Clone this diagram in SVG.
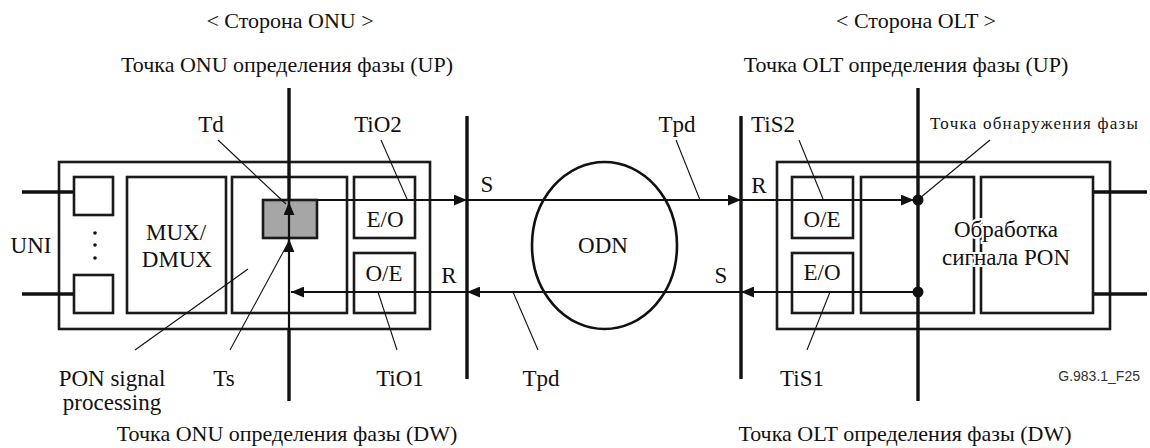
<svg xmlns="http://www.w3.org/2000/svg" width="1150" height="448" viewBox="0 0 1150 448">
<style>
text{font-family:"Liberation Serif","Times New Roman",serif;font-size:23px;fill:#111;text-anchor:middle}
.ttl{font-size:22px}
.sm{font-size:17px;text-anchor:start}
.fig{font-family:"Liberation Sans",Arial,sans-serif;font-size:14px;fill:#333;text-anchor:end}
.box{fill:#fff;stroke:#1a1a1a;stroke-width:2.6}
.thick{stroke:#111;stroke-width:3.4;fill:none}
.sig{stroke:#111;stroke-width:2.2;fill:none}
.lead{stroke:#111;stroke-width:1.1;fill:none}
.halo{stroke:#fff;stroke-width:4;paint-order:stroke}
</style>
<defs>
<marker id="ah" viewBox="0 0 12 10" refX="12" refY="5" markerWidth="13" markerHeight="11" markerUnits="userSpaceOnUse" orient="auto">
<path d="M0,0 L12,5 L0,10 z" fill="#111"/>
</marker>
</defs>

<g id="titles">
<text class="ttl" x="290" y="28">&lt; Сторона ONU &gt;</text>
<text class="ttl" x="287" y="72">Точка ONU определения фазы (UP)</text>
<text class="ttl" x="916" y="28">&lt; Сторона OLT &gt;</text>
<text class="ttl" x="906" y="72">Точка OLT определения фазы (UP)</text>
<text class="ttl" x="287" y="441">Точка ONU определения фазы (DW)</text>
<text class="ttl" x="905" y="441">Точка OLT определения фазы (DW)</text>
<text class="fig" x="1140" y="381">G.983.1_F25</text>
</g>

<g id="onu">
<rect class="box" x="59" y="162" width="371" height="167"/>
<line class="thick" x1="22" y1="192" x2="74" y2="192"/>
<line class="thick" x1="22" y1="294" x2="74" y2="294"/>
<rect class="box" x="74" y="177" width="39" height="38"/>
<rect class="box" x="74" y="275" width="39" height="38"/>
<circle cx="95" cy="233" r="1.8" fill="#111"/>
<circle cx="95" cy="245" r="1.8" fill="#111"/>
<circle cx="95" cy="258" r="1.8" fill="#111"/>
<text x="31" y="253">UNI</text>
<g id="mux">
<rect class="box" x="127" y="177" width="99" height="136"/>
<text x="176" y="240">MUX/</text>
<text x="177" y="267">DMUX</text>
</g>
<g id="onu-pon">
<rect class="box" x="232" y="177" width="115" height="136"/>
<rect x="263" y="200" width="54" height="38" fill="#a6a6a6" stroke="#1a1a1a" stroke-width="2.6"/>
</g>
<g id="onu-eo">
<rect class="box" x="354" y="177" width="61" height="61"/>
<text x="385" y="227">E/O</text>
</g>
<g id="onu-oe">
<rect class="box" x="354" y="253" width="61" height="60"/>
<text x="384" y="281">O/E</text>
</g>
</g>

<g id="odn">
<ellipse cx="604.5" cy="245.5" rx="72.5" ry="83.5" fill="none" stroke="#111" stroke-width="2.6"/>
<text x="603" y="253">ODN</text>
</g>

<g id="olt">
<rect class="box" x="777" y="162" width="333" height="167"/>
<line class="thick" x1="1093" y1="192" x2="1147" y2="192"/>
<line class="thick" x1="1093" y1="294" x2="1147" y2="294"/>
<g id="olt-oe">
<rect class="box" x="792" y="177" width="61" height="61"/>
<text x="822" y="227">O/E</text>
</g>
<g id="olt-eo">
<rect class="box" x="792" y="253" width="61" height="60"/>
<text x="822" y="280">E/O</text>
</g>
<rect class="box" x="861" y="177" width="113" height="136"/>
<g id="olt-pon">
<rect class="box" x="981" y="177" width="112" height="136"/>
<text class="halo" x="1006" y="237">Обработка</text>
<text class="halo" x="1006" y="265">сигнала PON</text>
</g>
</g>

<g id="connectors">
<line class="thick" x1="289" y1="88" x2="289" y2="200"/>
<line class="sig" x1="289" y1="200" x2="289" y2="330"/>
<line class="thick" x1="289" y1="329" x2="289" y2="401"/>
<line class="sig" x1="289" y1="214" x2="289" y2="202" marker-end="url(#ah)"/>
<line class="sig" x1="289" y1="251" x2="289" y2="239" marker-end="url(#ah)"/>
<line class="thick" x1="467" y1="116" x2="467" y2="379"/>
<line class="thick" x1="741" y1="116" x2="741" y2="379"/>
<line class="thick" x1="918" y1="88" x2="918" y2="401"/>

<line class="sig" x1="317" y1="200" x2="467" y2="200" marker-end="url(#ah)"/>
<line class="sig" x1="467" y1="200" x2="741" y2="200" marker-end="url(#ah)"/>
<line class="sig" x1="741" y1="200" x2="914" y2="200" marker-end="url(#ah)"/>
<line class="sig" x1="918" y1="292" x2="741" y2="292" marker-end="url(#ah)"/>
<line class="sig" x1="741" y1="292" x2="467" y2="292" marker-end="url(#ah)"/>
<line class="sig" x1="467" y1="292" x2="291" y2="292" marker-end="url(#ah)"/>
<circle cx="918" cy="200" r="5.5" fill="#111"/>
<circle cx="918" cy="292" r="5.5" fill="#111"/>

<line class="lead" x1="218" y1="140" x2="286" y2="204"/>
<line class="lead" x1="381" y1="140" x2="407" y2="199"/>
<line class="lead" x1="676" y1="140" x2="700" y2="200"/>
<line class="lead" x1="799" y1="140" x2="823" y2="199"/>
<line class="lead" x1="990" y1="140" x2="920" y2="198"/>
<line class="lead" x1="248" y1="269" x2="135" y2="350"/>
<line class="lead" x1="230" y1="350" x2="287" y2="245"/>
<line class="lead" x1="378" y1="292" x2="397" y2="350"/>
<line class="lead" x1="513" y1="292" x2="538" y2="350"/>
<line class="lead" x1="830" y1="292" x2="807" y2="350"/>

<text x="487" y="192">S</text>
<text x="449" y="283">R</text>
<text x="759" y="193">R</text>
<text x="721" y="283">S</text>
<text x="211" y="132">Td</text>
<text x="378" y="132">TiO2</text>
<text x="677" y="132">Tpd</text>
<text x="773" y="132">TiS2</text>
<text class="sm" x="930" y="129" textLength="208" lengthAdjust="spacing">Точка обнаружения фазы</text>
<text x="112" y="386">PON signal</text>
<text x="112" y="410">processing</text>
<text x="224" y="386">Ts</text>
<text x="400" y="386">TiO1</text>
<text x="541" y="386">Tpd</text>
<text x="802" y="386">TiS1</text>
</g>
</svg>
